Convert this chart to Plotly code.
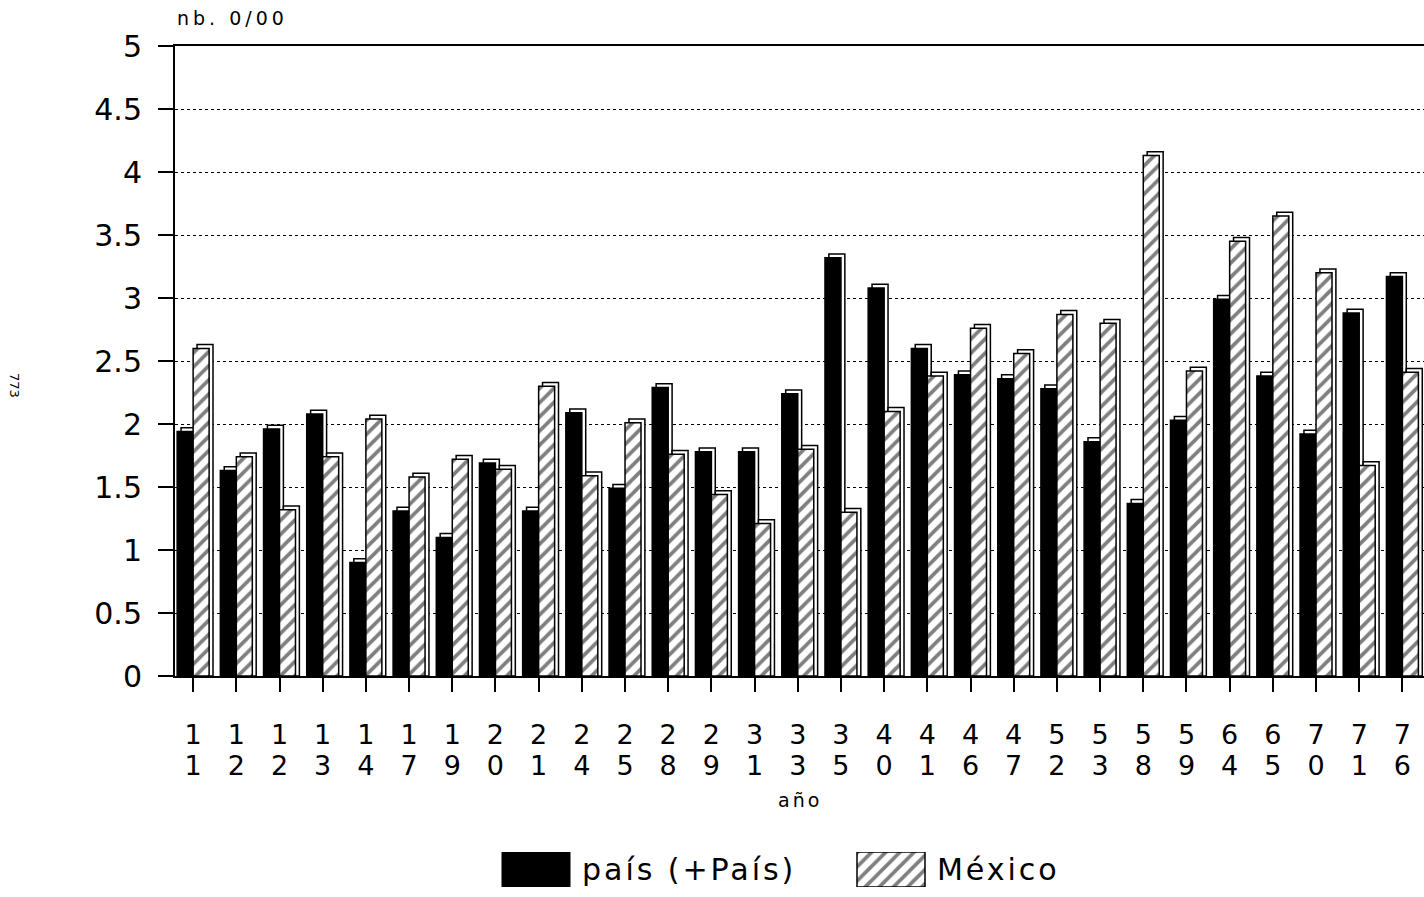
import plotly.graph_objects as go

# ---- data ----
years = ["11", "12", "12", "13", "14", "17", "19", "20", "21", "24", "25", "28", "29", "31",
         "33", "35", "40", "41", "46", "47", "52", "53", "58", "59", "64", "65", "70", "71", "76"]
pais = [1.94, 1.63, 1.96, 2.08, 0.90, 1.31, 1.10, 1.69, 1.31, 2.09, 1.49, 2.29, 1.78, 1.78,
        2.24, 3.32, 3.08, 2.60, 2.39, 2.36, 2.28, 1.86, 1.37, 2.03, 2.99, 2.38, 1.92, 2.88, 3.17]
mexico = [2.60, 1.74, 1.32, 1.74, 2.04, 1.58, 1.72, 1.64, 2.30, 1.59, 2.01, 1.76, 1.44, 1.21,
          1.80, 1.30, 2.10, 2.38, 2.76, 2.56, 2.87, 2.80, 4.13, 2.42, 3.45, 3.65, 3.20, 1.67, 2.41]
series_names = ["país (+País)", "México"]
y_ticks = [0, 0.5, 1, 1.5, 2, 2.5, 3, 3.5, 4, 4.5, 5]

pos = list(range(len(years)))
top_digit = [y[0] for y in years]
bot_digit = [y[1] for y in years]

FONT = "DejaVu Sans"
BW = 0.37      # bar width (category units)
DX = 0.09      # 3D depth, x
DY = 0.03      # 3D depth, y

line = dict(color="black", width=1.5)
hatch = dict(shape="/", fgcolor="black", bgcolor="white", size=10, solidity=0.38)

fig = go.Figure()

# 3D back faces + front faces
fig.add_trace(go.Bar(x=pos, y=[v + DY for v in pais], offset=-BW + DX, width=BW,
                     marker=dict(color="white", line=line), showlegend=False, hoverinfo="skip"))
fig.add_trace(go.Bar(x=pos, y=pais, offset=-BW, width=BW, name=series_names[0],
                     marker=dict(color="black", line=line), showlegend=False))
fig.add_trace(go.Bar(x=pos, y=[v + DY for v in mexico], offset=DX, width=BW,
                     marker=dict(color="white", line=line), showlegend=False, hoverinfo="skip"))
fig.add_trace(go.Bar(x=pos, y=mexico, offset=0, width=BW, name=series_names[1],
                     marker=dict(color="white", line=line, pattern=hatch), showlegend=False))

# dummy trace to activate xaxis2 (second digit row of tick labels)
fig.add_trace(go.Scatter(x=[pos[0]], y=[0], xaxis="x2", mode="markers",
                         marker=dict(opacity=0), showlegend=False, hoverinfo="skip"))

# legend drawn in its own small hidden axes (large swatches like the original)
LEG_X0 = [502, 857]
LEG_W = 68
legend_styles = [dict(color="black", line=dict(color="black", width=1)),
                 dict(color="white", line=dict(color="black", width=1.5), pattern=hatch)]
for name, x0, st in zip(series_names, LEG_X0, legend_styles):
    fig.add_trace(go.Bar(x=[LEG_W], base=[x0], y=[0.5], width=[1], orientation="h",
                         xaxis="x3", yaxis="y3", marker=st,
                         text=['<span style="letter-spacing:3px">\u2009' + name + '</span>'],
                         textposition="outside", cliponaxis=False,
                         textfont=dict(size=31, family=FONT, color="black"),
                         showlegend=False, hoverinfo="skip"))

H, W = 897, 1424
ML, MT = 175, 46
PH = H - MT
PW = W - ML
ydom0 = (H - 676) / PH
TICKFS = 27

fig.update_layout(
    width=W, height=H,
    margin=dict(l=ML, r=0, t=MT, b=0, autoexpand=False),
    paper_bgcolor="white", plot_bgcolor="white",
    barmode="overlay", showlegend=False,
    font=dict(family=FONT, color="black"),
    xaxis=dict(range=[-0.42, 28.5], tickvals=pos, ticktext=top_digit,
               ticks="outside", ticklen=14, tickwidth=1.5, tickcolor="black",
               tickfont=dict(size=TICKFS, family=FONT), ticklabelstandoff=20,
               showline=True, linecolor="black", linewidth=1.5, mirror=True,
               showgrid=False, zeroline=False, anchor="y", automargin=False),
    xaxis2=dict(range=[-0.42, 28.5], tickvals=pos, ticktext=bot_digit, overlaying="x",
                anchor="free", position=ydom0 - 32 / PH, side="bottom",
                ticks="outside", ticklen=14, tickcolor="rgba(0,0,0,0)",
                tickfont=dict(size=TICKFS, family=FONT), ticklabelstandoff=20,
                showline=False, showgrid=False, zeroline=False, automargin=False),
    yaxis=dict(domain=[ydom0, 1], range=[0, 5], tickvals=y_ticks,
               ticks="outside", ticklen=15, tickwidth=1.5, tickcolor="black",
               tickfont=dict(size=30, family=FONT), ticklabelstandoff=10,
               showline=True, linecolor="black", linewidth=2,
               showgrid=True, gridcolor="black", gridwidth=1, griddash="dot",
               zeroline=False, automargin=False),
    xaxis3=dict(domain=[(490 - ML) / PW, (1100 - ML) / PW], range=[490, 1100],
                visible=False, anchor="y3", automargin=False),
    yaxis3=dict(domain=[(H - 887) / PH, (H - 852) / PH], range=[0, 1],
                visible=False, anchor="x3", automargin=False),
    annotations=[
        dict(text='<span style="letter-spacing:4px">nb. 0/00</span>', xref="paper", yref="paper",
             x=0, y=1, xanchor="left", yanchor="middle", yshift=28, showarrow=False,
             font=dict(size=19)),
        dict(text='<span style="letter-spacing:3px">año</span>', xref="paper", yref="paper",
             x=(800 - ML) / PW, y=(H - 800) / PH, xanchor="center", yanchor="middle",
             showarrow=False, font=dict(size=19)),
        dict(text="773", xref="paper", yref="paper", x=(15 - ML) / PW, y=(H - 385) / PH,
             textangle=90, xanchor="center", yanchor="middle", showarrow=False,
             font=dict(size=13)),
    ],
)

fig.write_html("out.html", config={"displayModeBar": False},
               post_script="document.body.style.margin='0px';document.body.style.overflow='hidden';")
